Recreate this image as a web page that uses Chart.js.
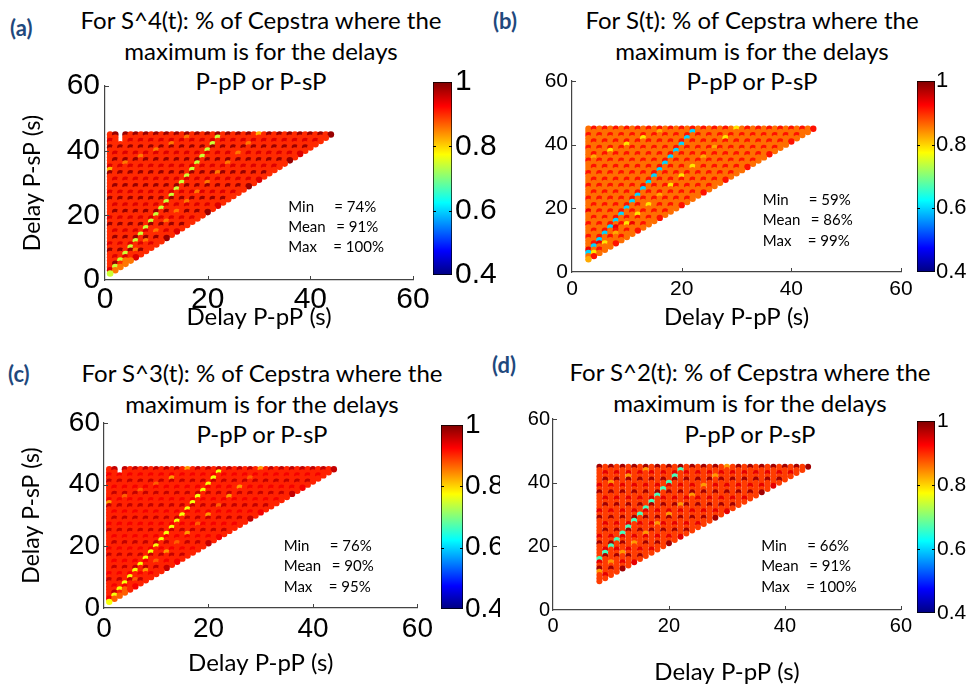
<!DOCTYPE html>
<html>
<head>
<meta charset="utf-8">
<script src="https://cdn.jsdelivr.net/npm/chart.js@4.4.1/dist/chart.umd.min.js"></script>
<style>
  body { margin: 0; background: #fff; }
  #fig { position: relative; width: 971px; height: 684px; overflow: hidden; font-family: Lato, sans-serif; }
  #fig canvas { position: absolute; }
  .ttl { position: absolute; width: 500px; text-align: center; font-size: 24px; line-height: 30.5px; color: #000; white-space: nowrap; }
  .lbl { position: absolute; font-weight: bold; font-size: 22px; line-height: 26px; color: #1f497d; }
</style>
</head>
<body>
<div id="fig">
  <div class="lbl" style="left:10px;top:15px">(a)</div>
  <div class="lbl" style="left:493px;top:8px">(b)</div>
  <div class="lbl" style="left:8px;top:361px">(c)</div>
  <div class="lbl" style="left:492px;top:352px">(d)</div>
  <div class="ttl" style="left:11px;top:5px">For S^4(t): % of Cepstra where the<br>maximum is for the delays<br>P-pP or P-sP</div>
  <div class="ttl" style="left:502px;top:5px">For S(t): % of Cepstra where the<br>maximum is for the delays<br>P-pP or P-sP</div>
  <div class="ttl" style="left:12px;top:358px">For S^3(t): % of Cepstra where the<br>maximum is for the delays<br>P-pP or P-sP</div>
  <div class="ttl" style="left:500px;top:356px;line-height:31px">For S^2(t): % of Cepstra where the<br>maximum is for the delays<br>P-pP or P-sP</div>
</div>
<script>
// ---- data ----
// grid rows, top row is P-sP = 45 s, each char is one P-pP column (| every 10 columns)
const rowsA = [
  "rDrDrDrDrD|rDrDrDrDrD|rDrDrDrDrD|rDrDrDrDrD|rDrD",
  "rrrrrrrrrr|rrrrrrrrrr|rrrrrrrrrr|rrrrrrrrrr|rrr",
  "mrmrmrmrmr|mrmrmrmrmr|mrmrmrmrmr|mrmrmrmrmr|mr",
  "rrrrrrrrrr|rrrrrrrrrr|rrrrrrrrrr|rrrrrrrrrr|r",
  "DrDrDrDrDr|DrDrDrDrDr|DrDrDrDrDr|DrDrDrDrDr",
  "rrrrrrrrrr|rrrrrrrrrr|rrrrrrrrrr|rrrrrrrrr",
  "rmrmrmrmrm|rmrmrmrmrm|rmrmrmrmrm|rmrmrmrm",
  "rrrrrrrrrr|rrrrrrrrrr|rrrrrrrrrr|rrrrrrr",
  "rDrDrDrDrD|rDrDrDrDrD|rDrDrDrDrD|rDrDrD",
  "rrrrrrrrrr|rrrrrrrrrr|rrrrrrrrrr|rrrrr",
  "mrmrmrmrmr|mrmrmrmrmr|mrmrmrmrmr|mrmr",
  "rrrrrrrrrr|rrrrrrrrrr|rrrrrrrrrr|rrr",
  "DrDrDrDrDr|DrDrDrDrDr|DrDrDrDrDr|Dr",
  "rrrrrrrrrr|rrrrrrrrrr|rrrrrrrrrr|r",
  "rmrmrmrmrm|rmrmrmrmrm|rmrmrmrmrm",
  "rrrrrrrrrr|rrrrrrrrrr|rrrrrrrrr",
  "rDrDrDrDrD|rDrDrDrDrD|rDrDrDrD",
  "rrrrrrrrrr|rrrrrrrrrr|rrrrrrr",
  "mrmrmrmrmr|mrmrmrmrmr|mrmrmr",
  "rrrrrrrrrr|rrrrrrrrrr|rrrrr",
  "DrDrDrDrDr|DrDrDrDrDr|DrDr",
  "rrrrrrrrrr|rrrrrrrrrr|rrr",
  "rmrmrmrmrm|rmrmrmrmrm|rm",
  "rrrrrrrrrr|rrrrrrrrrr|r",
  "rDrDrDrDrD|rDrDrDrDrD",
  "rrrrrrrrrr|rrrrrrrrr",
  "mrmrmrmrmr|mrmrmrmr",
  "rrrrrrrrrr|rrrrrrr",
  "DrDrDrDrDr|DrDrDr",
  "rrrrrrrrrr|rrrrr",
  "rmrmrmrmrm|rmrm",
  "rrrrrrrrrr|rrr",
  "rDrDrDrDrD|rD",
  "rrrrrrrrrr|r",
  "mrmrmrmrmr",
  "rrrrrrrrr",
  "DrDrDrDr",
  "rrrrrrr",
  "rmrmrm",
  "rrrrr",
  "rDrD",
  "rrr",
  "mr",
  "r"
];
const rowsB = [
  "OrOrOrOrOr|OrOrOrOrOr|OrOrOrOrOr|OrOrOrOrOr|Or",
  "OOOOOOOOOO|OOOOOOOOOO|OOOOOOOOOO|OOOOOOOOOO|O",
  "rOrOrOrOrO|rOrOrOrOrO|rOrOrOrOrO|rOrOrOrOrO",
  "OOOOOOOOOO|OOOOOOOOOO|OOOOOOOOOO|OOOOOOOOO",
  "OrOrOrOrOr|OrOrOrOrOr|OrOrOrOrOr|OrOrOrOr",
  "OOOOOOOOOO|OOOOOOOOOO|OOOOOOOOOO|OOOOOOO",
  "rOrOrOrOrO|rOrOrOrOrO|rOrOrOrOrO|rOrOrO",
  "OOOOOOOOOO|OOOOOOOOOO|OOOOOOOOOO|OOOOO",
  "OrOrOrOrOr|OrOrOrOrOr|OrOrOrOrOr|OrOr",
  "OOOOOOOOOO|OOOOOOOOOO|OOOOOOOOOO|OOO",
  "rOrOrOrOrO|rOrOrOrOrO|rOrOrOrOrO|rO",
  "OOOOOOOOOO|OOOOOOOOOO|OOOOOOOOOO|O",
  "OrOrOrOrOr|OrOrOrOrOr|OrOrOrOrOr",
  "OOOOOOOOOO|OOOOOOOOOO|OOOOOOOOO",
  "rOrOrOrOrO|rOrOrOrOrO|rOrOrOrO",
  "OOOOOOOOOO|OOOOOOOOOO|OOOOOOO",
  "OrOrOrOrOr|OrOrOrOrOr|OrOrOr",
  "OOOOOOOOOO|OOOOOOOOOO|OOOOO",
  "rOrOrOrOrO|rOrOrOrOrO|rOrO",
  "OOOOOOOOOO|OOOOOOOOOO|OOO",
  "OrOrOrOrOr|OrOrOrOrOr|Or",
  "OOOOOOOOOO|OOOOOOOOOO|O",
  "rOrOrOrOrO|rOrOrOrOrO",
  "OOOOOOOOOO|OOOOOOOOO",
  "OrOrOrOrOr|OrOrOrOr",
  "OOOOOOOOOO|OOOOOOO",
  "rOrOrOrOrO|rOrOrO",
  "OOOOOOOOOO|OOOOO",
  "OrOrOrOrOr|OrOr",
  "OOOOOOOOOO|OOO",
  "rOrOrOrOrO|rO",
  "OOOOOOOOOO|O",
  "OrOrOrOrOr",
  "OOOOOOOOO",
  "rOrOrOrO",
  "OOOOOOO",
  "OrOrOr",
  "OOOOO",
  "rOrO",
  "OOO",
  "Or",
  "O"
];
const rowsC = rowsA.slice();
const rowsD = [
  "DrDrDrDrDr|DrDrDrDrDr|DrDrDrDrDr|DrDrDrD",
  "rrrrrrrrrr|rrrrrrrrrr|rrrrrrrrrr|rrrrrr",
  "rmrmrmrmrm|rmrmrmrmrm|rmrmrmrmrm|rmrmr",
  "rrrrrrrrrr|rrrrrrrrrr|rrrrrrrrrr|rrrr",
  "rDrDrDrDrD|rDrDrDrDrD|rDrDrDrDrD|rDr",
  "rrrrrrrrrr|rrrrrrrrrr|rrrrrrrrrr|rr",
  "mrmrmrmrmr|mrmrmrmrmr|mrmrmrmrmr|m",
  "rrrrrrrrrr|rrrrrrrrrr|rrrrrrrrrr",
  "DrDrDrDrDr|DrDrDrDrDr|DrDrDrDrD",
  "rrrrrrrrrr|rrrrrrrrrr|rrrrrrrr",
  "rmrmrmrmrm|rmrmrmrmrm|rmrmrmr",
  "rrrrrrrrrr|rrrrrrrrrr|rrrrrr",
  "rDrDrDrDrD|rDrDrDrDrD|rDrDr",
  "rrrrrrrrrr|rrrrrrrrrr|rrrr",
  "mrmrmrmrmr|mrmrmrmrmr|mrm",
  "rrrrrrrrrr|rrrrrrrrrr|rr",
  "DrDrDrDrDr|DrDrDrDrDr|D",
  "rrrrrrrrrr|rrrrrrrrrr",
  "rmrmrmrmrm|rmrmrmrmr",
  "rrrrrrrrrr|rrrrrrrr",
  "rDrDrDrDrD|rDrDrDr",
  "rrrrrrrrrr|rrrrrr",
  "mrmrmrmrmr|mrmrm",
  "rrrrrrrrrr|rrrr",
  "DrDrDrDrDr|DrD",
  "rrrrrrrrrr|rr",
  "rmrmrmrmrm|r",
  "rrrrrrrrrr",
  "rDrDrDrDr",
  "rrrrrrrr",
  "mrmrmrm",
  "rrrrrr",
  "DrDrD",
  "rrrr",
  "rmr",
  "rr",
  "r"
];

// value of each code (fraction of cepstra)
const levelsA = { r: 0.90, m: 0.945, D: 0.985, o: 0.855, a: 0.82, g: 0.745 };
const levelsB = { O: 0.86, r: 0.915, R: 0.935, a: 0.825, y: 0.79, c: 0.60 };
const levelsC = { r: 0.905, m: 0.93, D: 0.96, o: 0.87, a: 0.835, y: 0.77 };
const levelsD = { r: 0.89, m: 0.94, D: 0.98, a: 0.835, c: 0.665 };

// single cells that differ from the row pattern: [P-pP, P-sP, code]
const spotsA = [
  [1,2,'g'],[2,4,'g'],[3,6,'g'],[4,8,'g'],[5,10,'g'],[6,12,'g'],[7,14,'g'],[8,16,'g'],
  [9,18,'g'],[10,20,'g'],[11,22,'g'],[12,24,'g'],[13,26,'g'],[14,28,'g'],[15,30,'g'],
  [16,32,'g'],[17,34,'g'],[18,36,'g'],[19,38,'g'],[20,40,'g'],[21,42,'g'],[22,44,'g'],
  [4,6,'o'],[6,9,'o'],[8,12,'o'],[10,15,'o'],[12,18,'o'],[14,21,'o'],[16,24,'o'],
  [18,27,'o'],[20,30,'o'],[22,33,'o'],[24,36,'o'],[26,39,'o'],[28,42,'o'],[30,45,'a'],
  [1,34,'a'],[4,36,'o'],[7,38,'o'],[10,40,'o'],[13,42,'o'],[16,44,'o'],
  [2,3,'o'],[3,4,'o'],[4,5,'o'],[5,6,'o'],
  [3,43,'.'],[3,44,'.'],[3,45,'.']
];
const spotsB = [
  [3,6,'c'],[4,8,'c'],[5,10,'c'],[6,12,'c'],[7,14,'c'],[8,16,'c'],[9,18,'c'],[10,20,'c'],
  [11,22,'c'],[12,24,'c'],[13,26,'c'],[14,28,'c'],[15,30,'c'],[16,32,'c'],[17,34,'c'],
  [18,36,'c'],[19,38,'c'],[20,40,'c'],[21,42,'c'],[22,44,'c'],
  [4,6,'y'],[6,9,'y'],[8,12,'a'],[10,15,'y'],[12,18,'y'],[14,21,'y'],[16,24,'a'],
  [18,27,'y'],[20,30,'y'],[22,33,'y'],[24,36,'a'],[26,39,'a'],[28,42,'y'],[30,45,'y'],
  [4,36,'a'],[7,38,'y'],[10,40,'y'],[13,42,'y'],[16,44,'a'],
  [3,7,'R'],[5,9,'R'],[8,14,'R'],[11,15,'R'],[3,19,'R'],[3,4,'a']
];
const spotsC = [
  [1,2,'y'],[2,4,'y'],[3,6,'y'],[4,8,'y'],[5,10,'y'],[6,12,'y'],[7,14,'y'],[8,16,'y'],
  [9,18,'y'],[10,20,'y'],[11,22,'y'],[12,24,'y'],[13,26,'y'],[14,28,'y'],[15,30,'y'],
  [16,32,'y'],[17,34,'y'],[18,36,'y'],[19,38,'y'],[20,40,'y'],[21,42,'y'],[22,44,'y'],
  [4,6,'o'],[6,9,'o'],[8,12,'a'],[10,15,'o'],[12,18,'a'],[14,21,'o'],[16,24,'a'],
  [18,27,'o'],[20,30,'a'],[22,33,'o'],[24,36,'a'],[26,39,'a'],[28,42,'o'],[30,45,'a'],
  [1,34,'a'],[4,36,'o'],[7,38,'o'],[10,40,'o'],[13,42,'a'],[16,45,'a'],
  [2,3,'o'],[3,4,'o'],[4,5,'o'],
  [3,44,'.'],[3,45,'.']
];
const spotsD = [
  [8,16,'c'],[9,18,'c'],[10,20,'c'],[11,22,'c'],[12,24,'c'],[13,26,'c'],[14,28,'c'],
  [15,30,'c'],[16,32,'c'],[17,34,'c'],[18,36,'c'],[19,38,'c'],[20,40,'c'],[21,42,'c'],[22,44,'c'],
  [8,12,'a'],[10,15,'a'],[12,18,'a'],[14,21,'a'],[16,24,'a'],[18,27,'a'],[20,30,'a'],
  [22,33,'a'],[24,36,'a'],[26,39,'a'],[28,42,'a'],[30,45,'a'],
  [10,40,'a'],[13,42,'a'],[16,44,'a']
];

const statLabels = ['Min', 'Mean', 'Max'];
const statsA = [74, 91, 100];
const statsB = [59, 86, 99];
const statsC = [76, 90, 95];
const statsD = [66, 91, 100];

const axisTicks = [0, 20, 40, 60];
const cbTicks = [0.4, 0.6, 0.8, 1];

// ---- layout / style ----
const SANS = "'Liberation Sans', Arial, sans-serif";

const panels = [
  { rows: rowsA, xStart: 1, levels: levelsA, spots: spotsA, stats: statsA,
    box: [0, 60, 440, 275], area: [105, 86, 413, 280], radius: 3.3,
    tick: { size: 30, family: SANS, padX: 5, padY: 5 }, xTitlePad: 6, yTitlePad: 21.5,
    statsAt: [35.7, 22.6], statsGap: 20,
    cbBox: [425, 60, 75, 240], cbArea: [433, 82, 452, 275], cbTick: { size: 30, family: SANS, pad: 3 } },
  { rows: rowsB, xStart: 3, levels: levelsB, spots: spotsB, stats: statsB,
    box: [500, 60, 420, 275], area: [572, 81, 901, 272], radius: 3.2,
    tick: { size: 21, family: SANS, padX: 7, padY: 4 }, xTitlePad: 6, yTitlePad: null,
    statsAt: [34.8, 22.6], statsGap: 20.5,
    cbBox: [908, 60, 63, 235], cbArea: [917, 81, 935, 272], cbTick: { size: 22, family: SANS, pad: 1 } },
  { rows: rowsC, xStart: 1, levels: levelsC, spots: spotsC, stats: statsC,
    box: [0, 398, 440, 282], area: [104, 423, 423, 608], radius: 3.2,
    tick: { size: 28, family: SANS, padX: 7, padY: 4 }, xTitlePad: 5, yTitlePad: 20.5,
    statsAt: [34.4, 20.1], statsGap: 20.5,
    cbBox: [433, 398, 67, 240], cbArea: [441, 425, 463, 609], cbTick: { size: 28, family: SANS, pad: 2 } },
  { rows: rowsD, xStart: 8, levels: levelsD, spots: spotsD, stats: statsD,
    box: [490, 395, 428, 289], area: [553, 419, 904, 610], radius: 3.0,
    tick: { size: 20, family: SANS, padX: 6, padY: 3 }, xTitlePad: 0, yTitlePad: null,
    statsAt: [35.9, 20.1], statsGap: 20.5,
    cbBox: [908, 395, 63, 240], cbArea: [917, 421, 935, 613], cbTick: { size: 21, family: SANS, pad: 2 } }
];

// jet colormap on the 0.4 .. 1 colour scale
const jetStops = [[0, [0, 0, 0.5]], [0.125, [0, 0, 1]], [0.375, [0, 1, 1]], [0.625, [1, 1, 0]], [0.875, [1, 0, 0]], [1, [0.5, 0, 0]]];
function jet(v) {
  const t = Math.min(1, Math.max(0, (v - 0.4) / 0.6));
  const c = x => Math.round(255 * Math.min(1, Math.max(0, x)));
  return `rgb(${c(1.5 - Math.abs(4 * t - 3))},${c(1.5 - Math.abs(4 * t - 2))},${c(1.5 - Math.abs(4 * t - 1))})`;
}

function place(box) {
  const c = document.createElement("canvas");
  c.width = box[2];
  c.height = box[3];
  c.style.left = box[0] + "px";
  c.style.top = box[1] + "px";
  c.style.width = box[2] + "px";
  c.style.height = box[3] + "px";
  document.getElementById("fig").appendChild(c);
  return c;
}

const innerTicks = {
  id: "innerTicks",
  afterDraw(chart, args, opts) {
    const { ctx, chartArea: a } = chart;
    const len = opts.len || 4;
    ctx.save();
    ctx.strokeStyle = opts.color || "#444";
    ctx.lineWidth = 1;
    Object.values(chart.scales).forEach((s) => {
      if (!s.options.display) return;
      s.ticks.forEach((t) => {
        if (t.value === s.min) return;
        if (opts.both && t.value === s.max) return;
        const p = Math.round(s.getPixelForValue(t.value)) + 0.5;
        ctx.beginPath();
        if (s.isHorizontal()) {
          ctx.moveTo(p, a.bottom);
          ctx.lineTo(p, a.bottom - len);
        } else if (opts.both) {
          ctx.moveTo(a.left, p); ctx.lineTo(a.left + len, p);
          ctx.moveTo(a.right, p); ctx.lineTo(a.right - len, p);
        } else {
          ctx.moveTo(a.left, p);
          ctx.lineTo(a.left + len, p);
        }
        ctx.stroke();
      });
    });
    ctx.restore();
  },
};

const statsText = {
  id: "statsText",
  afterDatasetsDraw(chart, args, o) {
    if (!o.values) return;
    const { ctx } = chart;
    const x0 = chart.scales.x.getPixelForValue(o.at[0]);
    const y0 = chart.scales.y.getPixelForValue(o.at[1]);
    const eq = [46, 48, 45];
    ctx.save();
    ctx.font = "15px Lato";
    ctx.fillStyle = "#000";
    ctx.textBaseline = "middle";
    statLabels.forEach((lab, i) => {
      const y = y0 + i * o.gap;
      ctx.fillText(lab, x0, y);
      ctx.fillText("= " + o.values[i] + "%", x0 + eq[i], y);
    });
    ctx.restore();
  },
};

function drawPanel(p) {
  const lookup = {};
  p.spots.forEach(([x, y, c]) => { lookup[x + "," + y] = c; });
  const pts = [];
  const colors = [];
  p.rows.forEach((row, r) => {
    const y = 45 - r;
    const cells = row.replace(/\|/g, "");
    for (let i = 0; i < cells.length; i++) {
      const x = p.xStart + i;
      if (x >= y || x > 44) continue;
      const code = lookup[x + "," + y] || cells[i];
      if (code === "." || p.levels[code] === undefined) continue;
      pts.push({ x, y });
      colors.push(jet(p.levels[code]));
    }
  });

  const [bl, bt, bw, bh] = p.box;
  const [al, at, ar, ab] = p.area;
  const tickFont = { family: p.tick.family, size: p.tick.size, lineHeight: 1 };
  const titleFont = { family: "Lato", size: 24, lineHeight: 1 };

  new Chart(place(p.box), {
    type: "scatter",
    data: {
      datasets: [{
        data: pts,
        pointBackgroundColor: colors,
        pointBorderWidth: 0,
        pointRadius: p.radius,
        pointHoverRadius: p.radius,
      }],
    },
    options: {
      responsive: false,
      maintainAspectRatio: false,
      animation: false,
      events: [],
      layout: { padding: { left: 0, top: at - bt, right: bl + bw - ar, bottom: 0 } },
      plugins: {
        legend: { display: false },
        tooltip: { enabled: false },
        innerTicks: { len: 4, color: "#444" },
        statsText: { values: p.stats, at: p.statsAt, gap: p.statsGap },
      },
      scales: {
        x: {
          type: "linear", min: 0, max: 60,
          afterBuildTicks: (s) => { s.ticks = axisTicks.map((v) => ({ value: v })); },
          afterFit: (s) => { s.height = bt + bh - ab; },
          grid: { display: false, drawTicks: false },
          border: { display: true, color: "#444", width: 1.2 },
          ticks: { color: "#000", font: tickFont, padding: p.tick.padX, maxRotation: 0, minRotation: 0, autoSkip: false },
          title: { display: true, text: "Delay P-pP (s)", color: "#000", font: titleFont, padding: { top: 0, bottom: p.xTitlePad } },
        },
        y: {
          type: "linear", min: 0, max: 60,
          afterBuildTicks: (s) => { s.ticks = axisTicks.map((v) => ({ value: v })); },
          afterFit: (s) => { s.width = al - bl; },
          grid: { display: false, drawTicks: false },
          border: { display: true, color: "#444", width: 1.2 },
          ticks: { color: "#000", font: tickFont, padding: p.tick.padY, autoSkip: false },
          title: {
            display: p.yTitlePad !== null, text: "Delay P-sP (s)", color: "#000",
            font: { family: "Lato", size: 23, lineHeight: 1 }, padding: { top: p.yTitlePad || 0, bottom: 0 },
          },
        },
      },
    },
    plugins: [innerTicks, statsText],
  });

  // colour bar
  const [cl, ct, cw, ch] = p.cbBox;
  const [cal, cat, car, cab] = p.cbArea;
  new Chart(place(p.cbBox), {
    type: "bar",
    data: {
      labels: ["scale"],
      datasets: [{
        data: [[cbTicks[0], cbTicks[cbTicks.length - 1]]],
        backgroundColor: (ctx) => {
          const a = ctx.chart.chartArea;
          if (!a) return "#f00";
          const g = ctx.chart.ctx.createLinearGradient(0, a.bottom, 0, a.top);
          jetStops.forEach(([s, c]) => g.addColorStop(s, `rgb(${c.map((k) => Math.round(k * 255)).join(",")})`));
          return g;
        },
        borderColor: "#000",
        borderWidth: 1,
        borderSkipped: false,
        barPercentage: 1,
        categoryPercentage: 1,
      }],
    },
    options: {
      responsive: false,
      maintainAspectRatio: false,
      animation: false,
      events: [],
      layout: { padding: { left: cal - cl, top: cat - ct, right: 0, bottom: ct + ch - cab } },
      plugins: {
        legend: { display: false },
        tooltip: { enabled: false },
        innerTicks: { len: 3, color: "#000", both: true },
      },
      scales: {
        x: { display: false },
        y: {
          position: "right", min: 0.4, max: 1,
          afterBuildTicks: (s) => { s.ticks = cbTicks.map((v) => ({ value: v })); },
          afterFit: (s) => { s.width = cl + cw - car; },
          grid: { display: false, drawTicks: false },
          border: { display: false },
          ticks: {
            color: "#000", autoSkip: false, padding: p.cbTick.pad,
            font: { family: p.cbTick.family, size: p.cbTick.size, lineHeight: 1 },
            callback: (v) => String(Math.round(v * 10) / 10),
          },
        },
      },
    },
    plugins: [innerTicks],
  });
}

function drawAll() {
  panels.forEach(drawPanel);
}

const wanted = ["24px Lato", "20px 'Liberation Sans'"];
if (document.fonts && document.fonts.load) {
  Promise.all(wanted.map((f) => document.fonts.load(f))).then(drawAll, drawAll);
} else {
  drawAll();
}
</script>
</body>
</html>
